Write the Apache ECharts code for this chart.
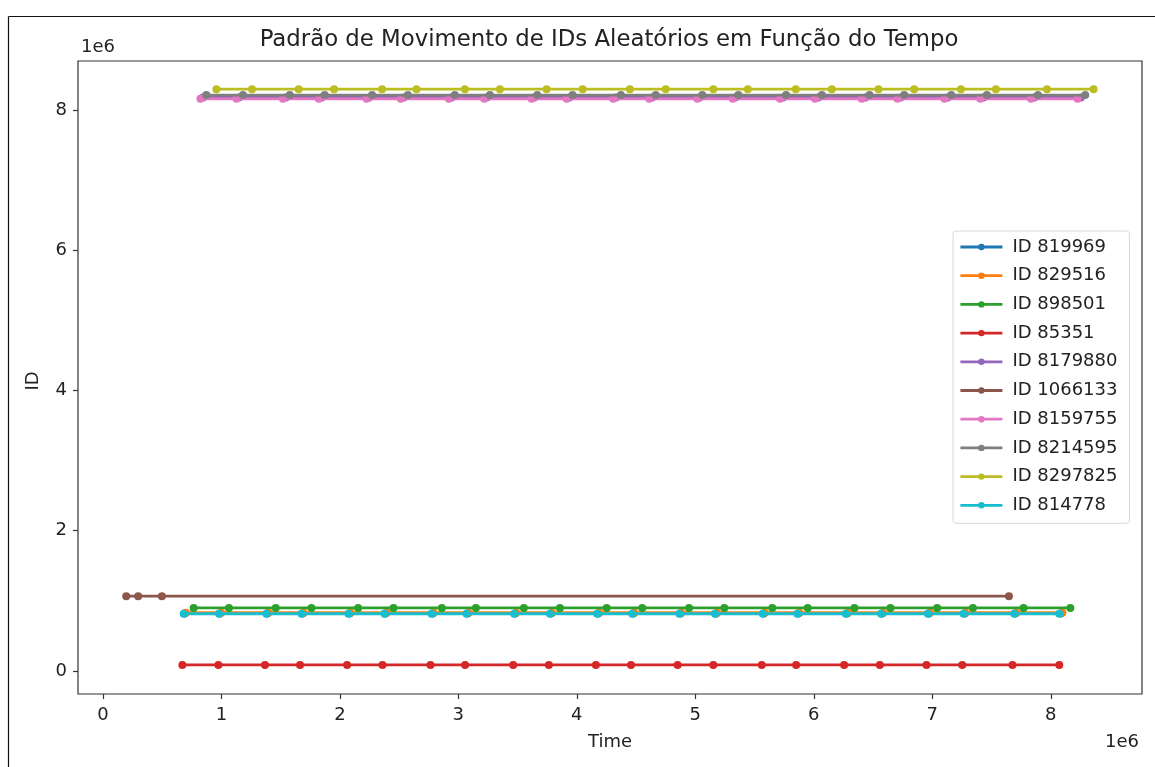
<!DOCTYPE html>
<html>
<head>
<meta charset="utf-8">
<script src="https://cdn.jsdelivr.net/npm/echarts@6/dist/echarts.min.js"></script>
<style>
html,body{margin:0;padding:0;background:#fff;}
#chart{width:1155px;height:767px;}
</style>
</head>
<body>
<div id="chart"></div>
<script>
// ---- data ----
const seriesNames = ['ID 819969','ID 829516','ID 898501','ID 85351','ID 8179880','ID 1066133','ID 8159755','ID 8214595','ID 8297825','ID 814778'];
const seriesIds = [819969, 829516, 898501, 85351, 8179880, 1066133, 8159755, 8214595, 8297825, 814778];

const timesBlue   = [0.690,0.988,1.388,1.684,2.082,2.385,2.782,3.078,3.480,3.782,4.181,4.477,4.874,5.175,5.578,5.870,6.279,6.577,6.972,7.273,7.701,8.085];
const timesOrange = [0.700,0.998,1.398,1.694,2.091,2.395,2.792,3.087,3.489,3.791,4.190,4.486,4.883,5.184,5.587,5.879,6.288,6.586,6.981,7.282,7.710,8.098];
const timesGreen  = [0.766,1.064,1.459,1.760,2.154,2.453,2.861,3.148,3.553,3.857,4.252,4.552,4.947,5.245,5.650,5.949,6.343,6.647,7.041,7.343,7.770,8.165];
const timesRed    = [0.671,0.975,1.368,1.664,2.061,2.360,2.765,3.057,3.463,3.764,4.161,4.457,4.851,5.152,5.561,5.851,6.256,6.557,6.951,7.253,7.677,8.072];
const timesPurple = [0.845,1.150,1.545,1.846,2.248,2.540,2.944,3.240,3.640,3.938,4.330,4.636,5.037,5.338,5.740,6.038,6.436,6.733,7.130,7.432,7.860,8.255];
const timesBrown  = [0.197,0.298,0.498,7.647];
const timesPink   = [0.823,1.127,1.520,1.822,2.225,2.514,2.920,3.218,3.618,3.914,4.307,4.611,5.017,5.316,5.715,6.010,6.405,6.706,7.103,7.405,7.833,8.226];
const timesGray   = [0.873,1.182,1.577,1.872,2.272,2.574,2.970,3.266,3.666,3.964,4.372,4.666,5.059,5.363,5.766,6.068,6.470,6.763,7.160,7.461,7.892,8.291];
const timesYellow = [0.958,1.258,1.653,1.951,2.356,2.647,3.055,3.351,3.745,4.049,4.448,4.750,5.152,5.443,5.848,6.152,6.546,6.847,7.242,7.537,7.968,8.361];
const timesCyan   = [0.682,0.980,1.380,1.676,2.073,2.377,2.774,3.069,3.471,3.773,4.172,4.468,4.865,5.166,5.569,5.861,6.270,6.568,6.963,7.264,7.692,8.072];
const timeScale = 1e6; // times above are in units of 1e6

const seriesTimes = [timesBlue,timesOrange,timesGreen,timesRed,timesPurple,timesBrown,timesPink,timesGray,timesYellow,timesCyan];
const colors = ['#1f77b4','#ff7f0e','#2ca02c','#d62728','#9467bd','#8c564b','#e377c2','#7f7f7f','#bcbd22','#17becf'];

const xTicks = [0,1,2,3,4,5,6,7,8];
const yTicks = [0,2,4,6,8];

const titleText = 'Padrão de Movimento de IDs Aleatórios em Função do Tempo';
const xLabel = 'Time';
const yLabel = 'ID';

// ---- chart ----
const FONT = 'DejaVu Sans';
const chart = echarts.init(document.getElementById('chart'), null, {renderer:'canvas'});

const series = seriesNames.map((name, i) => ({
  name: name,
  type: 'line',
  data: seriesTimes[i].map(t => [t * timeScale, seriesIds[i]]),
  symbol: 'circle',
  symbolSize: 8,
  showSymbol: true,
  lineStyle: {width: 2.8, color: colors[i]},
  itemStyle: {color: colors[i]},
  emphasis: {disabled: true},
  animation: false,
  z: 2 + i
}));

const option = {
  animation: false,
  color: colors,
  grid: {left: 78, right: 13, top: 61, bottom: 73, show: true, borderColor: '#333', borderWidth: 1.2, containLabel: false},
  xAxis: {
    type: 'value', min: -210000, max: 8770000,
    splitLine: {show: false},
    axisLine: {show: false, onZero: false},
    axisTick: {show: true, inside: false, length: 5, lineStyle: {color: '#333', width: 1.2}, customValues: xTicks.map(v => v * 1e6)},
    axisLabel: {show: true, margin: 12, color: '#222', fontFamily: FONT, fontSize: 18, customValues: xTicks.map(v => v * 1e6), formatter: v => String(Math.round(v / 1e6))}
  },
  yAxis: {
    type: 'value', min: -330000, max: 8700000,
    splitLine: {show: false},
    axisLine: {show: false, onZero: false},
    axisTick: {show: true, inside: false, length: 5, lineStyle: {color: '#333', width: 1.2}, customValues: yTicks.map(v => v * 1e6)},
    axisLabel: {show: true, margin: 11, color: '#222', fontFamily: FONT, fontSize: 18, customValues: yTicks.map(v => v * 1e6), formatter: v => String(Math.round(v / 1e6))}
  },
  legend: {
    show: true,
    orient: 'vertical',
    left: 953, top: 231,
    padding: [6, 12, 8, 6],
    itemWidth: 42, itemHeight: 8, itemGap: 8.7,
    backgroundColor: '#fff',
    borderColor: '#d8d8d8', borderWidth: 1, borderRadius: 3,
    lineStyle: {width: 2.8},
    textStyle: {fontFamily: FONT, fontSize: 18, color: '#222', lineHeight: 20, padding: [0, 0, 0, 5]},
    data: seriesNames,
    selectedMode: false
  },
  series: series,
  graphic: [
    {type: 'text', style: {text: titleText, x: 609, y: 40, align: 'center', verticalAlign: 'middle', font: '22.8px "DejaVu Sans"', fill: '#222'}},
    {type: 'text', style: {text: '1e6', x: 81, y: 47, align: 'left', verticalAlign: 'middle', font: '18px "DejaVu Sans"', fill: '#222'}},
    {type: 'text', style: {text: '1e6', x: 1139, y: 742, align: 'right', verticalAlign: 'middle', font: '18px "DejaVu Sans"', fill: '#222'}},
    {type: 'text', style: {text: xLabel, x: 610, y: 742, align: 'center', verticalAlign: 'middle', font: '18px "DejaVu Sans"', fill: '#222'}},
    {type: 'text', rotation: Math.PI / 2, x: 33, y: 381, style: {text: yLabel, x: 0, y: 0, align: 'center', verticalAlign: 'middle', font: '18px "DejaVu Sans"', fill: '#222'}},
    {type: 'line', shape: {x1: 8.5, y1: 16.5, x2: 8.5, y2: 767}, style: {stroke: '#111', lineWidth: 1.2}},
    {type: 'line', shape: {x1: 8.5, y1: 16.5, x2: 1155, y2: 16.5}, style: {stroke: '#111', lineWidth: 1.2}}
  ]
};
chart.setOption(option);
</script>
</body>
</html>
